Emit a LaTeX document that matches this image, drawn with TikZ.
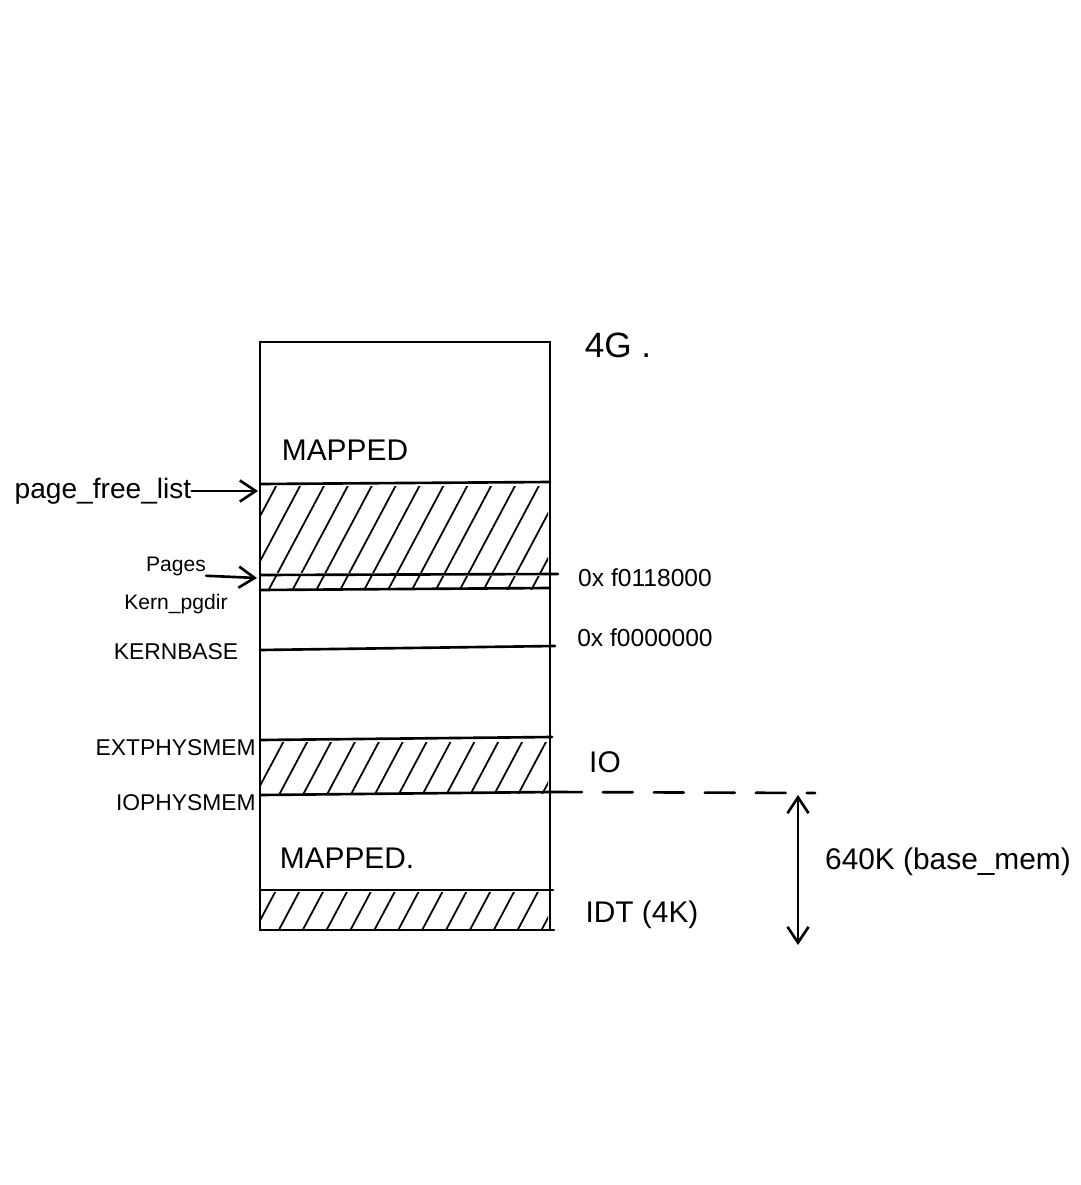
\documentclass[tikz,border=0pt]{standalone}
\usepackage{fontspec}
\setmainfont{Liberation Sans}
\usetikzlibrary{patterns.meta, arrows.meta}

\begin{document}
\begin{tikzpicture}[x=0.02cm, y=-0.02cm,
    pen/.style={line width=1.5pt, line cap=round},
    hatch/.style={pattern={Lines[angle=62, distance=12pt, line width=1pt]}},
    arr/.style={pen, -{Straight Barb[length=9pt, width=12pt]}},
    lbl/.style={inner sep=0pt, font=\fontsize{13}{15}\selectfont},
    big/.style={inner sep=0pt, font=\fontsize{17}{20}\selectfont}]
    \useasboundingbox (0,0) rectangle (1080,1185);

    % boundaries of the memory column
    \coordinate (freetop) at (258,491);
    \coordinate (pgsedge) at (257,578);
    \coordinate (kbase) at (260,650);
    \coordinate (extmem) at (260,740);
    \coordinate (iomem) at (260,795);
    \coordinate (idttop) at (260,890);

    \fill[hatch] (260,486) rectangle (548,572);
    \fill[hatch] (260,576) rectangle (548,589);
    \fill[hatch] (260,742) rectangle (548,793);
    \fill[hatch] (260,892) rectangle (548,928);

    \draw[pen] (260,342) rectangle (550,930);
    \draw[pen] (260,484) -- (550,482);
    \draw[pen] (260,575) -- (558,574);
    \draw[pen] (260,590) -- (550,588);
    \draw[pen] (kbase) -- (555,646);
    \draw[pen] (extmem) -- (552,737);
    \draw[pen] (iomem) -- (552,792);
    \draw[pen] (idttop) -- (553,890);
    \draw[pen] (550,930) -- (554,930);
    \draw[pen, dash pattern=on 17pt off 12pt] (552,792) -- (815,793);

    % labels on the left
    \node[big] (topmap) at (345,450) {MAPPED};
    \node[big] (lowmap) at (347,858) {MAPPED.};
    \node[inner sep=0pt, font=\fontsize{16}{19}\selectfont] (freelist) at (103,491) {page\_free\_list};
    \node[inner sep=0pt, font=\fontsize{12}{14}\selectfont] (pages) at (176,566) {Pages};
    \node[lbl, font=\fontsize{12}{14}\selectfont] (kpgdir) at (176,604) {Kern\_pgdir};
    \node[lbl] (kbaselbl) at (176,652) {KERNBASE};
    \node[lbl, anchor=east] (extlbl) at (256,748) {EXTPHYSMEM};
    \node[lbl, anchor=east] (iolbl) at (256,803) {IOPHYSMEM};

    \draw[arr] (freelist.east) -- (freetop);
    \draw[arr] (pages.south east) -- (pgsedge);

    % labels on the right
    \node[big, font=\fontsize{20}{24}\selectfont] (fourg) at (618,345) {4G .};
    \node[inner sep=0pt, font=\fontsize{14}{17}\selectfont] (addr1) at (645,578) {0x f0118000};
    \node[inner sep=0pt, font=\fontsize{14}{17}\selectfont] (addr2) at (645,638) {0x f0000000};
    \node[big] (iolabel) at (605,762) {IO};
    \node[big] (idtlbl) at (642,915) {IDT (4K)};

    \coordinate (memtop) at (798,795);
    \coordinate (membot) at (798,945);
    \draw[pen, {Straight Barb[length=9pt, width=12pt]}-{Straight Barb[length=9pt, width=12pt]}] (memtop) -- (membot);
    \node[big] (basemem) at (948,862) {640K (base\_mem)};
\end{tikzpicture}
\end{document}
